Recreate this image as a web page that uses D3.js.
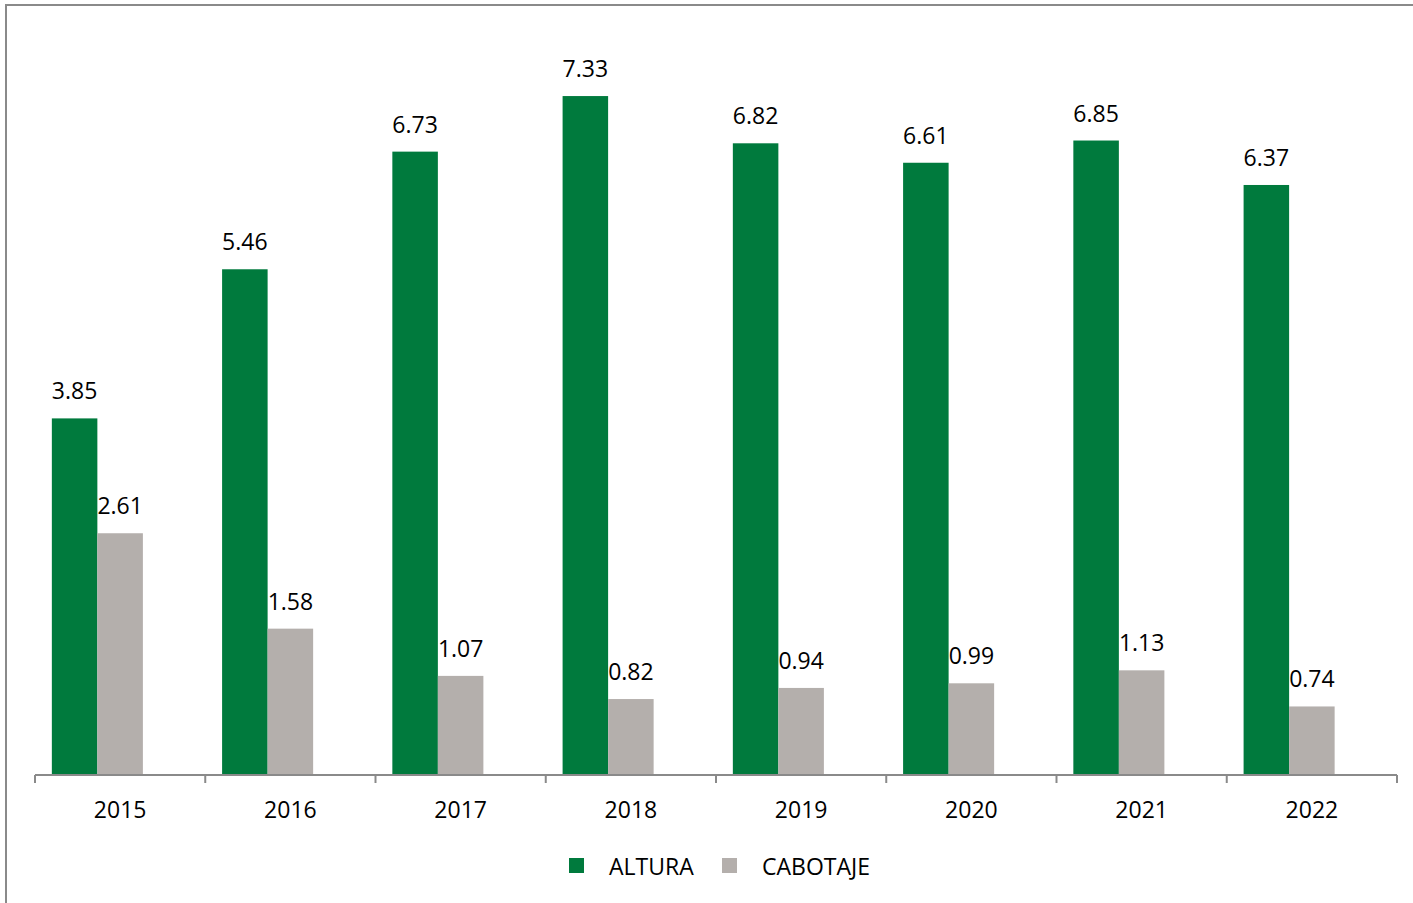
<!DOCTYPE html>
<html><head><meta charset="utf-8">
<script src="https://cdn.jsdelivr.net/npm/d3@7"></script>
<style>html,body{margin:0;padding:0;background:#fff;}svg{display:block;}</style>
</head><body>
<svg id="c" width="1413" height="903"></svg>
<script>
const years = ["2015","2016","2017","2018","2019","2020","2021","2022"];
const altura = [3.85, 5.46, 6.73, 7.33, 6.82, 6.61, 6.85, 6.37];
const cabotaje = [2.61, 1.58, 1.07, 0.82, 0.94, 0.99, 1.13, 0.74];
const seriesNames = ["ALTURA", "CABOTAJE"];
const seriesColors = ["#007A3D", "#B4AFAC"];

(function(){
const svg = d3.select("#c");
const font = "'Open Sans', sans-serif";

// outer frame
svg.append("path").attr("d","M6,910 L6,5 L1420,5").attr("fill","none").attr("stroke","#8a8a8a").attr("stroke-width",2);

const pLeft = 35, pRight = 1397, pBottom = 775, pTop = 34;
const x = d3.scaleBand().domain(years).range([pLeft, pRight]).paddingInner(0).paddingOuter(0);
const slot = d3.scaleBand().domain([0,1,2]).range([0, x.bandwidth()]).paddingInner(0).paddingOuter(0.37);
const y = d3.scaleLinear().domain([0, 8]).range([pBottom, pTop]);

const data = [altura, cabotaje];
data.forEach((vals, si) => {
  const g = svg.append("g");
  g.selectAll("rect").data(vals).join("rect")
    .attr("x", (d,i) => x(years[i]) + slot(si))
    .attr("width", slot.bandwidth())
    .attr("y", d => y(d))
    .attr("height", d => y(0) - y(d))
    .attr("fill", seriesColors[si]);
  g.selectAll("text").data(vals).join("text")
    .attr("x", (d,i) => x(years[i]) + slot(si) + slot.bandwidth()/2)
    .attr("y", d => y(d) - 19)
    .attr("text-anchor","middle")
    .attr("font-family", font).attr("font-size", 23).attr("fill","#000")
    .text(d => d.toFixed(2));
});

// axis
const axis = d3.axisBottom(x).tickSize(0);
const ag = svg.append("g").attr("transform", `translate(0,${pBottom})`).call(axis);
ag.select(".domain").attr("stroke","#8a8a8a").attr("stroke-width",2);
ag.selectAll(".tick text").attr("font-family", font).attr("font-size", 23).attr("fill","#000").attr("y", 43).attr("dy", 0);
const bounds = years.map(yr => x(yr)).concat([pRight]);
ag.selectAll("line.b").data(bounds).join("line").attr("class","b")
  .attr("x1", d=>d).attr("x2", d=>d).attr("y1",0).attr("y2",8)
  .attr("stroke","#8a8a8a").attr("stroke-width",2);
ag.select(".domain").attr("d", `M${pLeft},0H${pRight}`);

// legend
const leg = svg.append("g");
const legX = [569, 722];
seriesNames.forEach((n, i) => {
  leg.append("rect").attr("x", legX[i]).attr("y", 858).attr("width", 15).attr("height", 15).attr("fill", seriesColors[i]);
  leg.append("text").attr("x", legX[i] + 40).attr("y", 875).attr("font-family", font).attr("font-size", 23).attr("fill","#000").text(n);
});
})();
</script>
</body></html>
